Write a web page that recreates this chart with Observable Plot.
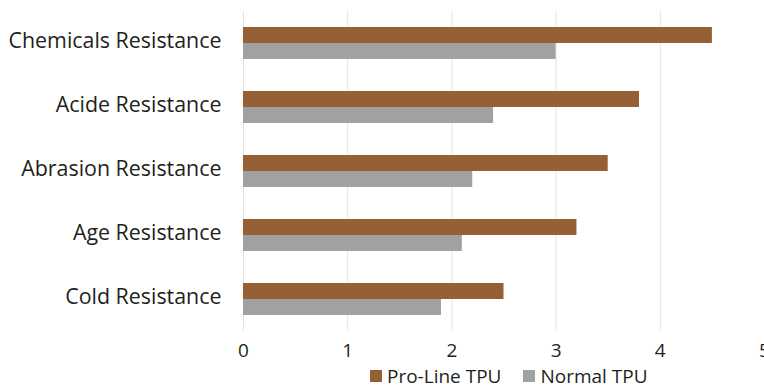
<!DOCTYPE html>
<html>
<head>
<meta charset="utf-8">
<script src="https://cdn.jsdelivr.net/npm/d3@7"></script>
<script src="https://cdn.jsdelivr.net/npm/@observablehq/plot@0.6"></script>
<style>
  html, body { margin: 0; padding: 0; background: #fff; overflow: hidden; }
  #chart svg { display: block; overflow: visible; }
  #legend { display: flex; gap: 0; padding-left: 370px; padding-top: 8px; height: 20px; line-height: 20px;
    font-family: "Open Sans", sans-serif; font-size: 19px; color: #231f20; align-items: center; }
  .item { display: flex; align-items: center; margin-right: 22px; }
  .sw { width: 12px; height: 12px; margin-right: 5px; }
</style>
</head>
<body>
<div id="chart"></div>
<div id="legend"></div>
<script>
const categories = ["Chemicals Resistance", "Acide Resistance", "Abrasion Resistance", "Age Resistance", "Cold Resistance"];
const series = ["Pro-Line TPU", "Normal TPU"];
const proLine = [4.5, 3.8, 3.5, 3.2, 2.5];
const normal = [3.0, 2.4, 2.2, 2.1, 1.9];
const xTicks = [0, 1, 2, 3, 4, 5];
const colors = ["#956134", "#a0a2a1"];

const data = [];
categories.forEach((c, i) => {
  data.push({category: c, series: series[0], value: proLine[i]});
  data.push({category: c, series: series[1], value: normal[i]});
});

const chart = Plot.plot({
  width: 764,
  height: 358,
  marginLeft: 243,
  marginRight: 0,
  marginTop: 11,
  marginBottom: 27,
  style: {fontFamily: "'Open Sans', sans-serif", fontSize: "19px", color: "#231f20", background: "#fff", overflow: "visible"},
  x: {domain: [0, 5], ticks: xTicks, tickFormat: d => String(d), tickSize: 0, tickPadding: 12, label: null},
  fy: {domain: categories, padding: 0, label: null, axis: null},
  y: {domain: series, paddingInner: 0, paddingOuter: 0.925, axis: null},
  color: {domain: series, range: colors},
  marks: [
    Plot.gridX(xTicks, {stroke: "#e2e2e2", strokeOpacity: 1, strokeWidth: 1}),
    Plot.barX(data, {fy: "category", y: "series", x: "value", fill: "series"}),
    Plot.axisFy({anchor: "left", tickSize: 0, tickPadding: 22, fontSize: 21.4, dy: -2, label: null})
  ]
});
document.getElementById("chart").appendChild(chart);

const legend = document.getElementById("legend");
series.forEach((s, i) => {
  const item = document.createElement("div");
  item.className = "item";
  const sw = document.createElement("span");
  sw.className = "sw";
  sw.style.background = colors[i];
  item.appendChild(sw);
  item.appendChild(document.createTextNode(s));
  legend.appendChild(item);
});
</script>
</body>
</html>
